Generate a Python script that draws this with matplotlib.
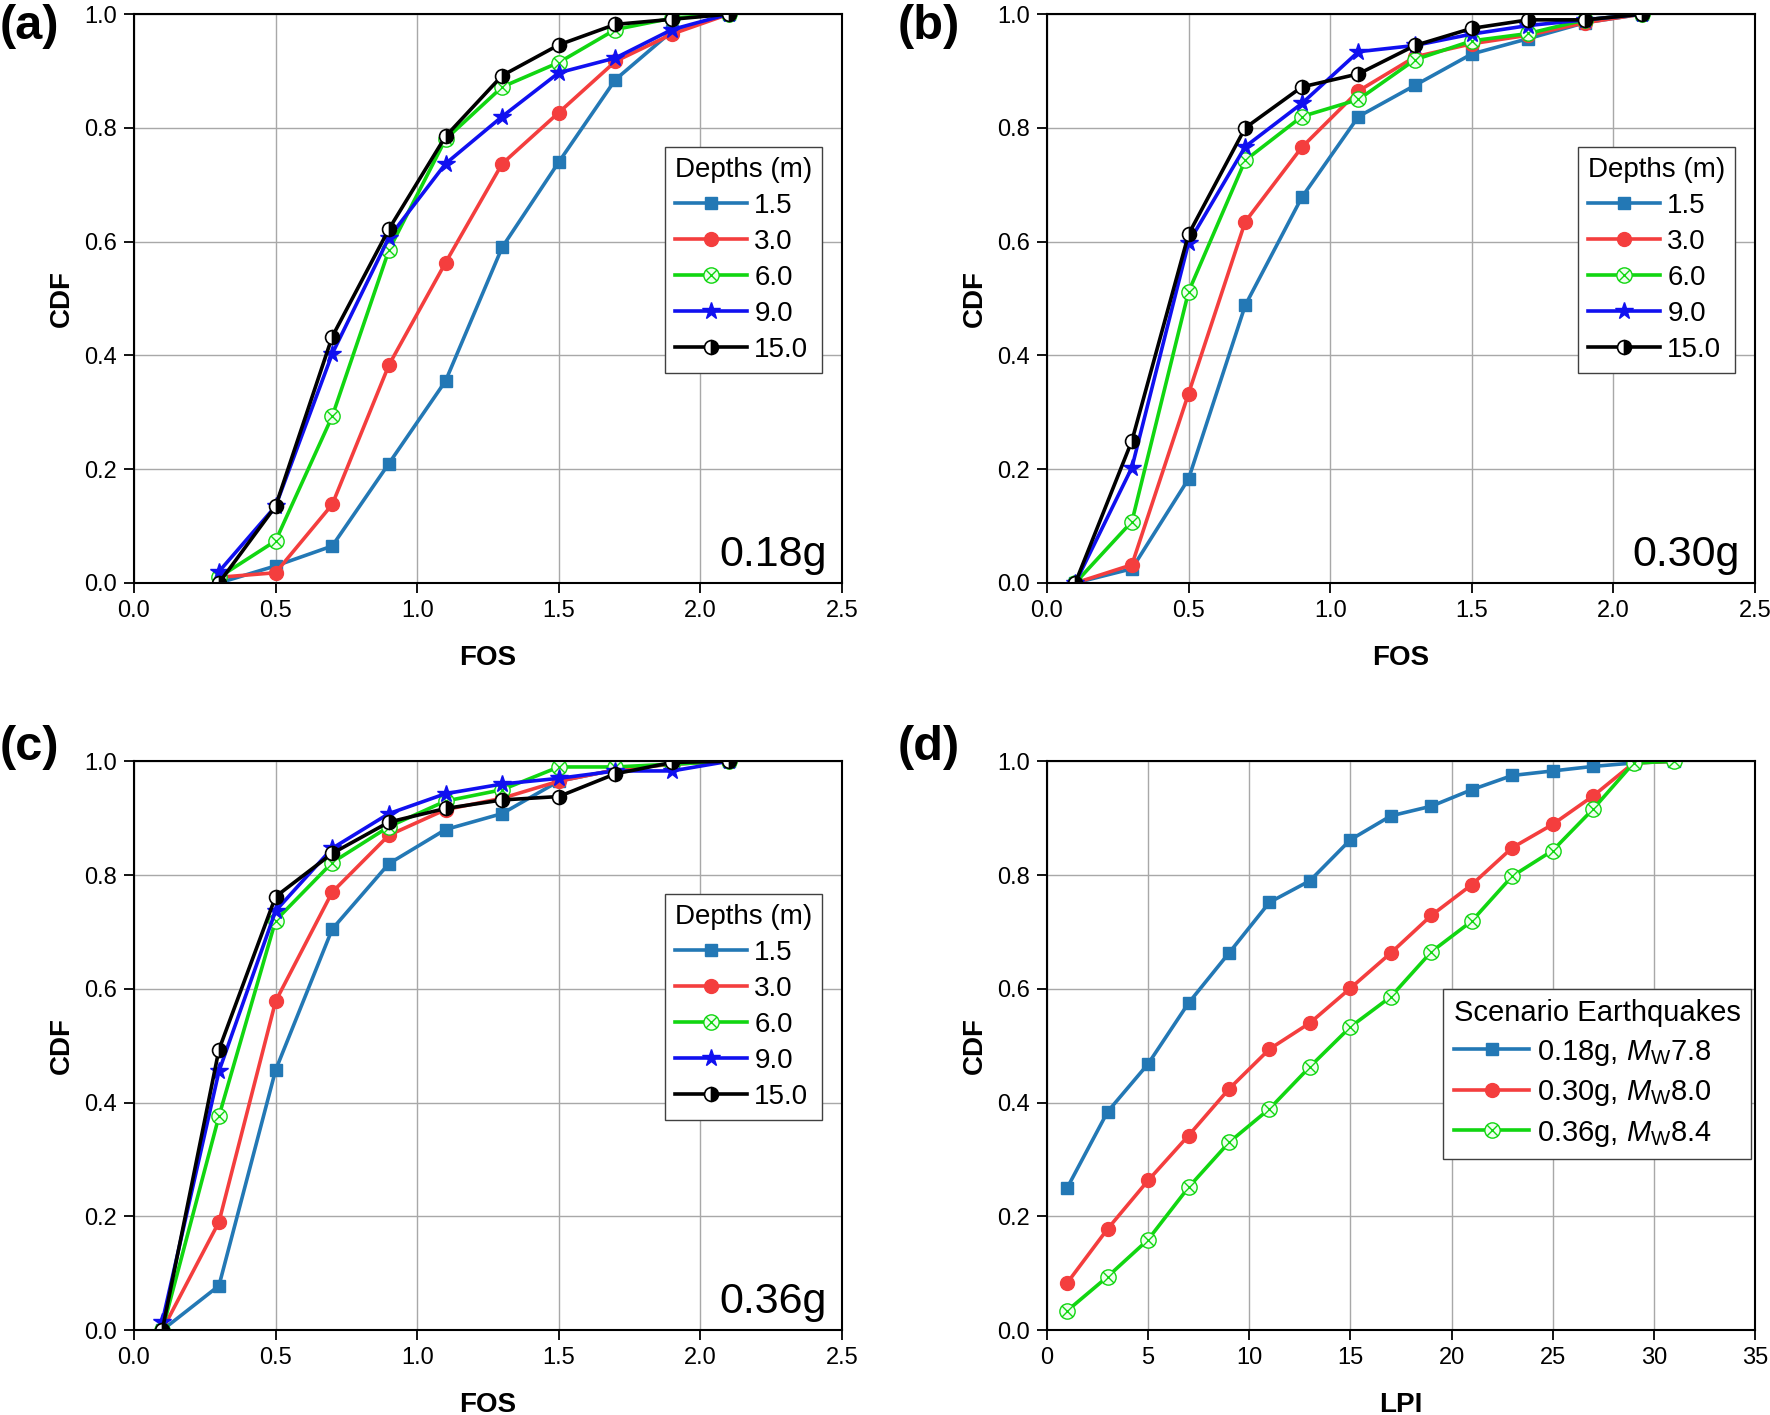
import numpy as np
import matplotlib
matplotlib.use("Agg")
import matplotlib.pyplot as plt
from matplotlib.path import Path

plt.rcParams['font.family'] = ['Liberation Sans', 'DejaVu Sans']
plt.rcParams['mathtext.fontset'] = 'custom'
plt.rcParams['mathtext.rm'] = 'Liberation Sans'
plt.rcParams['mathtext.it'] = 'Liberation Sans:italic'

# ---- data ----
depths = ["1.5", "3.0", "6.0", "9.0", "15.0"]

fos_a = [0.3, 0.5, 0.7, 0.9, 1.1, 1.3, 1.5, 1.7, 1.9, 2.1]
cdf_a = [
    [0.0, 0.030, 0.065, 0.210, 0.355, 0.590, 0.740, 0.885, 0.970, 1.0],
    [0.010, 0.018, 0.138, 0.383, 0.563, 0.737, 0.827, 0.917, 0.965, 1.0],
    [0.010, 0.074, 0.293, 0.585, 0.780, 0.872, 0.915, 0.973, 0.993, 1.0],
    [0.020, 0.135, 0.403, 0.607, 0.737, 0.820, 0.897, 0.923, 0.973, 1.0],
    [0.0, 0.135, 0.433, 0.622, 0.785, 0.892, 0.946, 0.982, 0.991, 1.0],
]

fos_b = [0.1, 0.3, 0.5, 0.7, 0.9, 1.1, 1.3, 1.5, 1.7, 1.9, 2.1]
cdf_b = [
    [0.0, 0.025, 0.183, 0.488, 0.678, 0.820, 0.875, 0.930, 0.957, 0.985, 1.0],
    [0.0, 0.032, 0.333, 0.635, 0.766, 0.865, 0.925, 0.948, 0.963, 0.985, 1.0],
    [0.0, 0.108, 0.512, 0.743, 0.820, 0.850, 0.920, 0.953, 0.966, 0.990, 1.0],
    [0.0, 0.203, 0.598, 0.767, 0.843, 0.934, 0.945, 0.965, 0.980, 0.990, 1.0],
    [0.0, 0.250, 0.613, 0.800, 0.872, 0.895, 0.945, 0.975, 0.990, 0.990, 1.0],
]

fos_c = [0.1, 0.3, 0.5, 0.7, 0.9, 1.1, 1.3, 1.5, 1.7, 1.9, 2.1]
cdf_c = [
    [0.0, 0.078, 0.457, 0.705, 0.820, 0.880, 0.908, 0.965, 0.985, 0.995, 1.0],
    [0.0, 0.190, 0.578, 0.770, 0.870, 0.915, 0.935, 0.965, 0.985, 0.995, 1.0],
    [0.0, 0.376, 0.720, 0.822, 0.885, 0.930, 0.950, 0.990, 0.990, 0.995, 1.0],
    [0.015, 0.455, 0.737, 0.847, 0.908, 0.943, 0.960, 0.970, 0.983, 0.983, 1.0],
    [0.0, 0.493, 0.762, 0.838, 0.893, 0.917, 0.932, 0.938, 0.978, 0.998, 1.0],
]

scenarios = [r"0.18g, $M_\mathrm{W}$7.8", r"0.30g, $M_\mathrm{W}$8.0", r"0.36g, $M_\mathrm{W}$8.4"]
lpi = [1, 3, 5, 7, 9, 11, 13, 15, 17, 19, 21, 23, 25, 27, 29, 31]
cdf_d = [
    [0.250, 0.384, 0.468, 0.575, 0.663, 0.752, 0.790, 0.862, 0.904, 0.921, 0.950, 0.975, 0.983, 0.991, 0.997, 1.0],
    [0.083, 0.178, 0.263, 0.342, 0.424, 0.494, 0.540, 0.601, 0.663, 0.729, 0.783, 0.848, 0.889, 0.939, 0.997, 1.0],
    [0.034, 0.094, 0.159, 0.251, 0.330, 0.389, 0.463, 0.533, 0.586, 0.665, 0.719, 0.798, 0.843, 0.916, 0.997, 1.0],
]

pga_labels = ["0.18g", "0.30g", "0.36g"]

# ---- styles ----
circ_x = Path.make_compound_path(
    Path.unit_circle(),
    Path([(-0.707, -0.707), (0.707, 0.707), (-0.707, 0.707), (0.707, -0.707)],
         [Path.MOVETO, Path.LINETO, Path.MOVETO, Path.LINETO]))

lw = 2.6
styles = [
    dict(color="#2378B5", marker="s", ms=9, mfc="#2378B5", mec="#2378B5"),
    dict(color="#F43E3E", marker="o", ms=10, mfc="#F43E3E", mec="#F43E3E"),
    dict(color="#11D611", marker=circ_x, ms=11, mfc="#EFFFEF", mec="#11D611", mew=1.0),
    dict(color="#1010F0", marker="*", ms=13, mfc="#1010F0", mec="#1010F0"),
    dict(color="black", marker="o", ms=10, fillstyle="right", mfc="black",
         mfcalt="white", mec="black", mew=1.2),
]


def style_axes(ax, xlim, xticks, xlabel):
    ax.set_xlim(*xlim)
    ax.set_ylim(0, 1)
    ax.set_xticks(xticks)
    ax.set_yticks(np.arange(0, 1.01, 0.2))
    ax.yaxis.set_major_formatter(matplotlib.ticker.FormatStrFormatter("%.1f"))
    ax.grid(True, color="#A8A8A8", lw=1.0)
    ax.set_axisbelow(True)
    ax.tick_params(labelsize=17, length=7, width=1.3, direction="out", pad=5)
    for s in ax.spines.values():
        s.set_linewidth(1.5)
    ax.set_xlabel(xlabel, fontsize=20, fontweight="bold", labelpad=17)
    ax.set_ylabel("CDF", fontsize=20, fontweight="bold", labelpad=7)


def make_legend(ax, title, anchor, fs=20):
    leg = ax.legend(title=title, loc="upper right", bbox_to_anchor=anchor,
                    borderaxespad=0, fontsize=fs, title_fontsize=fs,
                    handlelength=2.6, handletextpad=0.25, labelspacing=0.36,
                    borderpad=0.35, fancybox=False, framealpha=1,
                    edgecolor="#404040", alignment="left")
    leg.get_frame().set_linewidth(1.0)
    return leg


fig = plt.figure(figsize=(17.7, 14.15), dpi=100)
w, h = 0.400, 0.402
ax_a = fig.add_axes([0.0757, 0.5880, w, h])
ax_b = fig.add_axes([0.5915, 0.5880, w, h])
ax_c = fig.add_axes([0.0757, 0.0600, w, h])
ax_d = fig.add_axes([0.5915, 0.0600, w, h])

for ax, xs, ys, pga in [(ax_a, fos_a, cdf_a, pga_labels[0]),
                        (ax_b, fos_b, cdf_b, pga_labels[1]),
                        (ax_c, fos_c, cdf_c, pga_labels[2])]:
    for lab, y, st in zip(depths, ys, styles):
        ax.plot(xs, y, lw=lw, label=lab, **st)
    style_axes(ax, (0, 2.5), np.arange(0, 2.51, 0.5), "FOS")
    make_legend(ax, "Depths (m)", (0.972, 0.766))
    ax.text(0.978, 0.03, pga, transform=ax.transAxes, ha="right", va="baseline",
            fontsize=31)

for lab, y, st in zip(scenarios, cdf_d, styles[:3]):
    ax_d.plot(lpi, y, lw=lw, label=lab, **st)
style_axes(ax_d, (0, 35), np.arange(0, 36, 5), "LPI")
ax_d.xaxis.set_major_formatter(matplotlib.ticker.FormatStrFormatter("%d"))
make_legend(ax_d, "Scenario Earthquakes", (0.994, 0.600), fs=21)

for lab, x, y in [("(a)", 0.0, 0.9816), ("(b)", 0.507, 0.9816),
                  ("(c)", 0.0, 0.472), ("(d)", 0.507, 0.472)]:
    fig.text(x, y, lab, fontsize=35, fontweight="bold", ha="left", va="center")

fig.savefig("out.png", dpi=100)
